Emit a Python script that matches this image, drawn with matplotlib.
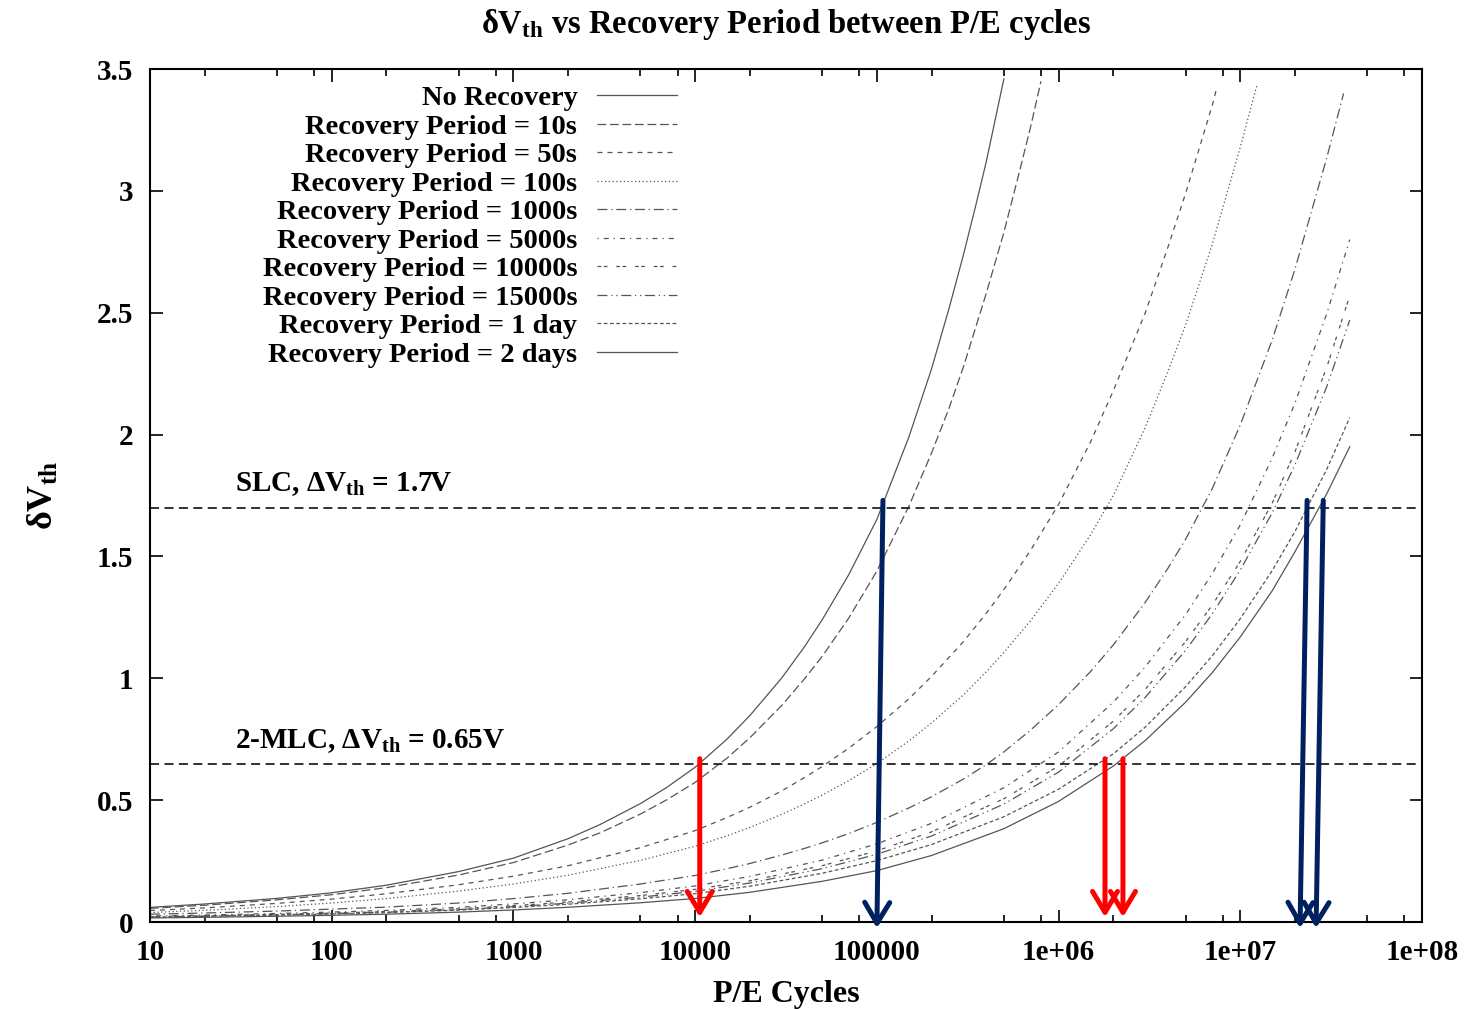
import matplotlib
matplotlib.use("Agg")
import matplotlib.pyplot as plt
from matplotlib.ticker import FixedLocator, FixedFormatter, LogLocator, NullFormatter

plt.rcParams['font.family'] = ['Liberation Serif', 'DejaVu Serif']
plt.rcParams['font.weight'] = 'bold'
plt.rcParams['mathtext.fontset'] = 'custom'
plt.rcParams['mathtext.rm'] = 'Liberation Serif:bold'
plt.rcParams['mathtext.it'] = 'Liberation Serif:bold'
plt.rcParams['mathtext.bf'] = 'Liberation Serif:bold'

# P/E cycle grids
pe_full = [10, 20, 50, 100, 200, 500, 1e3, 2e3, 5e3, 1e4, 1.5e4, 2e4, 3e4, 4e4, 5e4, 7e4,
           1e5, 1.5e5, 2e5, 3e5, 4e5, 5e5, 7e5, 1e6, 1.5e6, 2e6, 3e6, 4e6, 5e6, 7e6,
           1e7, 1.5e7, 2e7, 3e7]
pe_cluster = [10, 20, 50, 100, 200, 500, 1e3, 2e3, 5e3, 1e4, 2e4, 5e4, 1e5, 2e5, 5e5,
              1e6, 2e6, 3e6, 5e6, 7e6, 1e7, 1.5e7, 2e7, 3e7, 4e7]

# delta Vth
no_rec_x = [10, 20, 50, 100, 200, 500, 1e3, 2e3, 3e3, 5e3, 7e3, 1e4, 1.5e4, 2e4, 3e4, 4e4, 5e4,
            7e4, 1e5, 1.5e5, 2e5, 2.5e5, 3e5, 3.5e5, 4e5, 4.5e5, 5e5]
no_rec_y = [0.060, 0.074, 0.097, 0.120, 0.151, 0.207, 0.262, 0.342, 0.400, 0.486, 0.553, 0.635,
            0.751, 0.847, 1.002, 1.13, 1.24, 1.425, 1.652, 1.99, 2.27, 2.52, 2.74, 2.94, 3.12,
            3.30, 3.46]

rec10_x = [10, 20, 50, 100, 200, 500, 1e3, 2e3, 3e3, 5e3, 7e3, 1e4, 1.5e4, 2e4, 3e4, 4e4, 5e4,
           7e4, 1e5, 1.5e5, 2e5, 2.5e5, 3e5, 4e5, 5e5, 6e5, 7e5, 8e5]
rec10_y = [0.056, 0.069, 0.091, 0.112, 0.141, 0.193, 0.244, 0.316, 0.366, 0.443, 0.502, 0.573,
           0.673, 0.756, 0.889, 0.998, 1.09, 1.247, 1.44, 1.706, 1.925, 2.11, 2.28, 2.58, 2.83,
           3.06, 3.26, 3.45]

rec50_x = pe_full[:30] + [7.4e6]
rec50_y = [0.047, 0.058, 0.0765, 0.094, 0.116, 0.153, 0.188, 0.231, 0.305, 0.375, 0.429, 0.471,
           0.538, 0.593, 0.638, 0.713, 0.802, 0.916, 1.008, 1.151, 1.267, 1.364, 1.524, 1.714,
           1.97, 2.18, 2.50, 2.77, 2.99, 3.35, 3.42]

rec100_x = pe_full[:31] + [1.23e7]
rec100_y = [0.039, 0.048, 0.0635, 0.078, 0.096, 0.127, 0.156, 0.192, 0.253, 0.311, 0.354, 0.388,
            0.442, 0.485, 0.521, 0.580, 0.650, 0.743, 0.817, 0.933, 1.027, 1.106, 1.236, 1.390,
            1.589, 1.75, 2.03, 2.26, 2.45, 2.78, 3.18, 3.43]

rec1000_x = pe_full + [3.7e7]
rec1000_y = [0.032, 0.037, 0.045, 0.053, 0.061, 0.078, 0.096, 0.118, 0.156, 0.191, 0.219, 0.240,
             0.275, 0.302, 0.325, 0.363, 0.409, 0.468, 0.514, 0.587, 0.646, 0.698, 0.787, 0.892,
             1.028, 1.137, 1.312, 1.452, 1.571, 1.778, 2.04, 2.39, 2.68, 3.14, 3.40]

rec5000_y = [0.0246, 0.0286, 0.0351, 0.0408, 0.0475, 0.0604, 0.0743, 0.0914, 0.1205, 0.148, 0.187,
             0.254, 0.321, 0.405, 0.551, 0.698, 0.902, 1.047, 1.262, 1.429, 1.63, 1.905, 2.13, 2.50, 2.80]
rec10000_y = [0.0222, 0.0258, 0.0316, 0.0368, 0.0429, 0.0545, 0.067, 0.0824, 0.1086, 0.134, 0.169,
              0.231, 0.292, 0.370, 0.506, 0.640, 0.824, 0.955, 1.151, 1.30, 1.48, 1.72, 1.93, 2.28, 2.57]
rec15000_y = [0.0208, 0.0243, 0.0297, 0.0346, 0.0403, 0.0512, 0.063, 0.0774, 0.102, 0.1256, 0.160,
              0.219, 0.278, 0.353, 0.484, 0.615, 0.793, 0.922, 1.115, 1.264, 1.445, 1.68, 1.877, 2.20, 2.47]
rec1day_y = [0.020, 0.0233, 0.0285, 0.0332, 0.0386, 0.0489, 0.0597, 0.073, 0.0953, 0.1164, 0.147,
             0.200, 0.252, 0.318, 0.432, 0.545, 0.690, 0.800, 0.966, 1.092, 1.245, 1.443, 1.603, 1.86, 2.07]
rec2day_y = [0.0166, 0.0193, 0.0237, 0.0275, 0.0321, 0.0406, 0.0495, 0.0605, 0.079, 0.0966, 0.122,
             0.167, 0.211, 0.273, 0.383, 0.495, 0.640, 0.745, 0.902, 1.023, 1.17, 1.36, 1.52, 1.76, 1.95]

labels = ["No Recovery", "Recovery Period = 10s", "Recovery Period = 50s",
          "Recovery Period = 100s", "Recovery Period = 1000s", "Recovery Period = 5000s",
          "Recovery Period = 10000s", "Recovery Period = 15000s",
          "Recovery Period = 1 day", "Recovery Period = 2 days"]

series = [(no_rec_x, no_rec_y), (rec10_x, rec10_y), (rec50_x, rec50_y), (rec100_x, rec100_y),
          (rec1000_x, rec1000_y), (pe_cluster, rec5000_y), (pe_cluster, rec10000_y),
          (pe_cluster, rec15000_y), (pe_cluster, rec1day_y), (pe_cluster, rec2day_y)]

# gnuplot-like monochrome dash types
styles = ['-', (0, (7, 3)), (0, (4, 4)), (0, (1, 2)), (0, (8, 3, 1, 3)), (0, (1, 4, 4, 4)),
          (0, (3, 2, 3, 7)), (0, (8, 3, 1, 3, 1, 3)), (0, (3, 2)), '-']

# threshold lines
slc_vth = 1.7
mlc_vth = 0.65

# arrows: red = 2-MLC lifetime, blue = SLC lifetime
red_x = [1.06e4, 1.8e6, 2.26e6]
red_top, red_tip = 0.67, 0.02
blue_top_x = [1.08e5, 2.33e7, 2.86e7]
blue_tip_x = [1.0e5, 2.13e7, 2.61e7]
blue_top, blue_tip = 1.73, -0.025

xtick_vals = [10, 100, 1000, 1e4, 1e5, 1e6, 1e7, 1e8]
xtick_labels = ["10", "100", "1000", "10000", "100000", "1e+06", "1e+07", "1e+08"]
ytick_vals = [0, 0.5, 1, 1.5, 2, 2.5, 3, 3.5]
ytick_labels = ["0", "0.5", "1", "1.5", "2", "2.5", "3", "3.5"]

fig = plt.figure(figsize=(14.7, 10.09), dpi=100)
ax = fig.add_axes([0.102, 0.0862, 0.8654, 0.8454])

for (x, y), lab, ls in zip(series, labels, styles):
    ax.plot(x, y, color='#555555', lw=0.9, linestyle=ls, label=lab)

ax.axhline(slc_vth, color='#222222', lw=1.3, linestyle=(0, (5, 3)))
ax.axhline(mlc_vth, color='#222222', lw=1.3, linestyle=(0, (5, 3)))

ax.text(0.067, 1.77, r"SLC, $\Delta$V$_\mathrm{th}$ = 1.7V", transform=ax.get_yaxis_transform(),
        fontsize=21, fontweight='bold', va='baseline')
ax.text(0.067, 0.715, r"2-MLC, $\Delta$V$_\mathrm{th}$ = 0.65V", transform=ax.get_yaxis_transform(),
        fontsize=21, fontweight='bold', va='baseline')

head = '->,head_length=0.75,head_width=0.45'
for xr in red_x:
    ax.annotate('', xy=(xr, red_tip), xytext=(xr, red_top), annotation_clip=False,
                arrowprops=dict(arrowstyle=head, color='#ff0000', lw=3.6, shrinkA=0, shrinkB=0,
                                mutation_scale=20), zorder=5)
for xt, xb in zip(blue_top_x, blue_tip_x):
    ax.annotate('', xy=(xb, blue_tip), xytext=(xt, blue_top), annotation_clip=False,
                arrowprops=dict(arrowstyle=head, color='#002060', lw=3.6, shrinkA=0, shrinkB=0,
                                mutation_scale=20), zorder=5)

ax.set_xscale('log')
ax.set_xlim(10, 1e8)
ax.set_ylim(0, 3.5)
ax.xaxis.set_major_locator(FixedLocator(xtick_vals))
ax.xaxis.set_major_formatter(FixedFormatter(xtick_labels))
ax.xaxis.set_minor_locator(LogLocator(base=10, subs=[2, 5, 8], numticks=20))
ax.xaxis.set_minor_formatter(NullFormatter())
ax.set_yticks(ytick_vals)
ax.set_yticklabels(ytick_labels)
ax.tick_params(which='both', direction='in', top=True, right=True, labelsize=21, width=1.2)
ax.tick_params(which='major', length=9, pad=12)
ax.tick_params(which='minor', length=5)
for s in ax.spines.values():
    s.set_linewidth(1.5)

ax.set_xlabel("P/E Cycles", fontsize=23, fontweight='bold', labelpad=10)
ax.set_ylabel(r"$\delta$V$_\mathrm{th}$", fontsize=26, fontweight='bold', labelpad=26)
ax.set_title(r"$\delta$V$_\mathrm{th}$ vs Recovery Period between P/E cycles", fontsize=23.5,
             fontweight='bold', pad=26)

ax.legend(loc='upper right', bbox_to_anchor=(0.4143, 0.981), frameon=False, markerfirst=False,
          fontsize=20.5, handlelength=2.8, handletextpad=0.7, labelspacing=0.09, borderpad=0,
          borderaxespad=0)

fig.savefig('out.png', dpi=100)
